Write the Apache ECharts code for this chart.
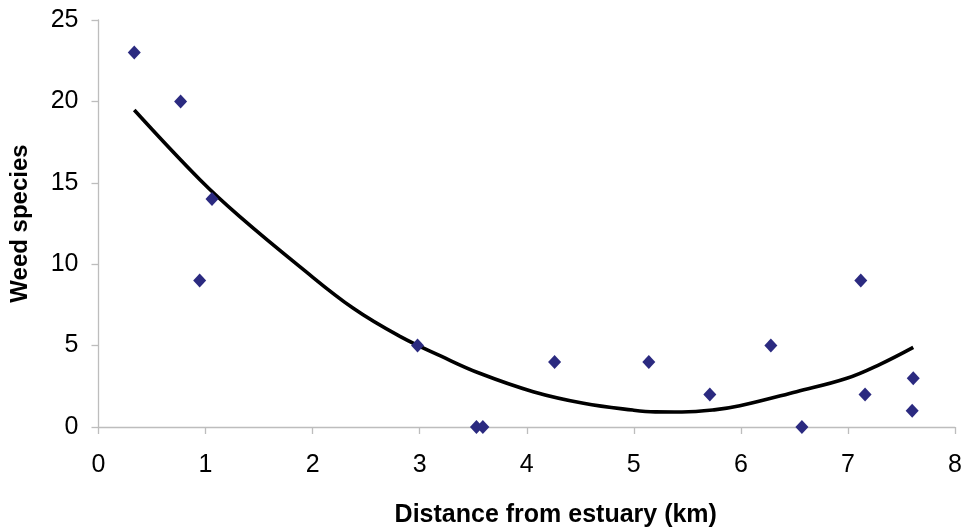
<!DOCTYPE html>
<html>
<head>
<meta charset="utf-8">
<script src="https://cdn.jsdelivr.net/npm/echarts@6/dist/echarts.min.js"></script>
<style>
html,body{margin:0;padding:0;background:#fff;}
#c{width:971px;height:531px;}
</style>
</head>
<body>
<div id="c"></div>
<script>
// Observed data (distance km, weed species)
var distX = [0.334, 0.767, 0.945, 1.06, 2.98, 3.53, 3.59, 4.26, 5.14, 5.71, 6.28, 6.57, 7.12, 7.16, 7.60, 7.61];
var speciesY = [23, 20, 9, 14, 5, 0, 0, 4, 4, 2, 5, 0, 9, 2, 1, 3];

// Trend line
var trendX = [0.334, 0.95, 1.32, 1.88, 2.38, 2.82, 3.2, 3.56, 4.06, 4.53, 4.99, 5.2, 5.45, 5.75, 5.99, 6.52, 6.99, 7.3, 7.61];
var trendY = [19.47, 15.17, 12.92, 9.85, 7.29, 5.55, 4.35, 3.30, 2.17, 1.46, 1.04, 0.93, 0.92, 1.05, 1.30, 2.17, 2.99, 3.85, 4.89];

var xTicks = [0, 1, 2, 3, 4, 5, 6, 7, 8];
var yTicks = [0, 5, 10, 15, 20, 25];

var pts = distX.map(function (x, i) { return [x, speciesY[i]]; });
var trend = trendX.map(function (x, i) { return [x, trendY[i]]; });

var font = 'Liberation Sans, Arial, sans-serif';
var chart = echarts.init(document.getElementById('c'));
chart.setOption({
  animation: false,
  grid: { left: 98.5, right: 16, top: 20, bottom: 104, containLabel: false, outerBoundsMode: 'none' },
  xAxis: {
    type: 'value', min: xTicks[0], max: xTicks[xTicks.length - 1], interval: 1,
    name: 'Distance from estuary (km)', nameLocation: 'middle', nameGap: 76,
    nameTextStyle: { fontFamily: font, fontSize: 25, fontWeight: 'bold', color: '#000', padding: [0, 0, 0, 58] },
    axisLine: { show: true, lineStyle: { color: '#bdbdbd', width: 1.3 } },
    axisTick: { show: true, inside: false, length: 7, lineStyle: { color: '#bdbdbd', width: 1.3 } },
    axisLabel: { fontFamily: font, fontSize: 25, color: '#000', margin: 26 },
    splitLine: { show: false }
  },
  yAxis: {
    type: 'value', min: yTicks[0], max: yTicks[yTicks.length - 1], interval: 5,
    name: 'Weed species', nameLocation: 'middle', nameGap: 66, nameRotate: 90,
    nameTextStyle: { fontFamily: font, fontSize: 24, fontWeight: 'bold', color: '#000' },
    axisLine: { show: true, lineStyle: { color: '#bdbdbd', width: 1.3 } },
    axisTick: { show: true, inside: false, length: 7, lineStyle: { color: '#bdbdbd', width: 1.3 } },
    axisLabel: { fontFamily: font, fontSize: 25, color: '#000', margin: 20 },
    splitLine: { show: false }
  },
  series: [
    {
      type: 'line', data: trend, smooth: 0.4, showSymbol: false, symbol: 'none',
      lineStyle: { color: '#000', width: 3.6 }, z: 2
    },
    {
      type: 'scatter', data: pts, symbol: 'diamond', symbolSize: [13, 14],
      itemStyle: { color: '#2b2a80', opacity: 1 }, z: 3
    }
  ]
});
</script>
</body>
</html>
